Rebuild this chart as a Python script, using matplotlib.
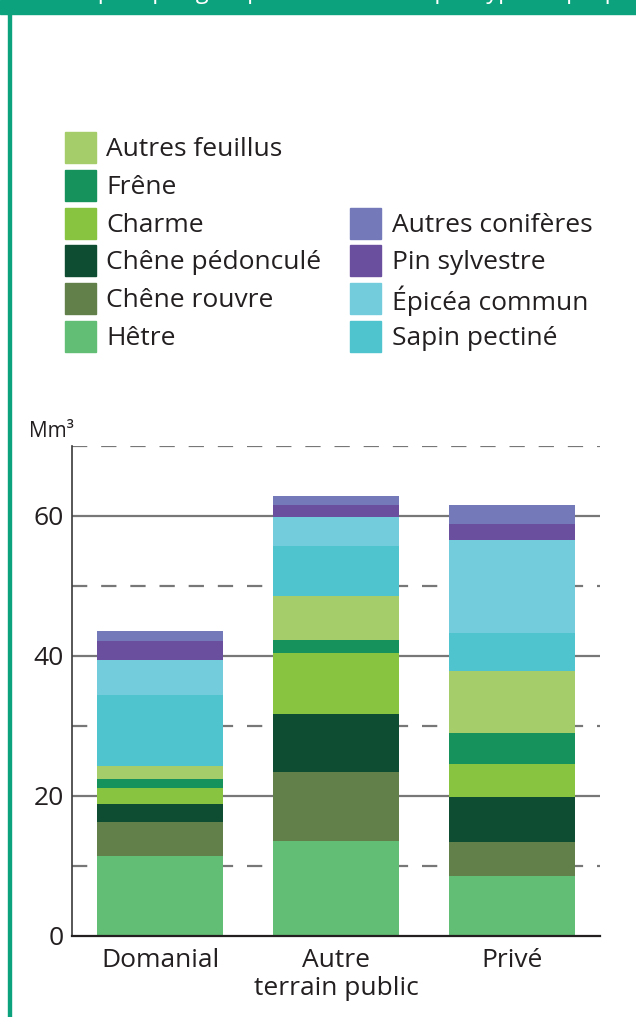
import numpy as np
import matplotlib
matplotlib.use("Agg")
import matplotlib.pyplot as plt
from matplotlib.patches import Rectangle

plt.rcParams["font.family"] = ["Open Sans", "DejaVu Sans"]
plt.rcParams["lines.scale_dashes"] = False

TXT = "#231f20"

categories = ["Domanial", "Autre\nterrain public", "Privé"]

# stacking order, bottom to top (Mm³)
species = ["Hêtre", "Chêne rouvre", "Chêne pédonculé", "Charme", "Frêne",
           "Autres feuillus", "Sapin pectiné", "Épicéa commun",
           "Pin sylvestre", "Autres conifères"]
hetre = [11.4, 13.5, 8.5]
chene_rouvre = [4.85, 9.9, 4.9]
chene_pedoncule = [2.55, 8.3, 6.4]
charme = [2.3, 8.7, 4.8]
frene = [1.3, 1.8, 4.4]
autres_feuillus = [1.8, 6.3, 8.9]
sapin = [10.2, 7.2, 5.3]
epicea = [5.0, 4.1, 13.3]
pin_sylvestre = [2.7, 1.7, 2.4]
autres_coniferes = [1.4, 1.4, 2.6]

series = [hetre, chene_rouvre, chene_pedoncule, charme, frene,
          autres_feuillus, sapin, epicea, pin_sylvestre, autres_coniferes]
colors = ["#62be75", "#62804a", "#0e4d32", "#88c440", "#16935c",
          "#a5ce6a", "#4fc4cf", "#72ccdc", "#6b4f9f", "#7479b9"]
col = dict(zip(species, colors))

legend_left = ["Autres feuillus", "Frêne", "Charme", "Chêne pédonculé",
               "Chêne rouvre", "Hêtre"]
legend_right = ["Autres conifères", "Pin sylvestre", "Épicéa commun",
                "Sapin pectiné"]

W, H = 636, 1017
FS = 19
fig = plt.figure(figsize=(W / 100, H / 100), dpi=100)

# header band + left rule
fig.patches.append(Rectangle((0, 1 - 14 / H), 1, 14 / H, transform=fig.transFigure,
                             color="#0ca27d", zorder=0))
fig.patches.append(Rectangle((8 / W, 0), 2.5 / W, 1 - 14 / H, transform=fig.transFigure,
                             color="#0ca27d", zorder=0))
# title runs off the top edge, only its descenders show (as in the source)
fig.text(0.5, 1 + 2 / H, "Volume sur pied par groupe d'essences et par type de propriété",
         color="white", fontsize=17, ha="center", va="baseline")

# legend, drawn by hand in figure pixels
def px(x, y):
    return x / W, 1 - y / H

sq = 31
for i, name in enumerate(legend_left):
    top = 132 + i * 37.8
    x0, y0 = px(65, top + sq)
    fig.patches.append(Rectangle((x0, y0), sq / W, sq / H, transform=fig.transFigure,
                                 color=col[name]))
    fig.text(*px(106, top + sq / 2 + 2), name, fontsize=FS, color=TXT, va="center")
for i, name in enumerate(legend_right):
    top = 132 + (i + 2) * 37.8
    x0, y0 = px(350, top + sq)
    fig.patches.append(Rectangle((x0, y0), sq / W, sq / H, transform=fig.transFigure,
                                 color=col[name]))
    fig.text(*px(392, top + sq / 2 + 2), name, fontsize=FS, color=TXT, va="center")

# chart
ax = fig.add_axes([72 / W, (H - 935.7) / H, 528 / W, (935.7 - 446) / H])
x = np.arange(len(categories))
bottom = np.zeros(len(categories))
for name, vals in zip(species, series):
    ax.bar(x, vals, width=0.72, bottom=bottom, color=col[name], zorder=3, linewidth=0)
    bottom += np.array(vals)

for v in [20, 40, 60]:
    ax.axhline(v, color="#777777", lw=1.6, zorder=1)
for v in [10, 30, 50, 70]:
    ax.axhline(v, color="#777777", lw=1.6, zorder=1, linestyle=(0, (11, 10)))

ax.set_xlim(-0.5, 2.5)
ax.set_ylim(0, 70)
ax.set_yticks([0, 20, 40, 60])
ax.set_xticks(x)
ax.set_xticklabels(categories, linespacing=1.15)
ax.tick_params(axis="both", length=0, labelsize=FS, labelcolor=TXT)
ax.tick_params(axis="y", pad=6)
ax.tick_params(axis="x", pad=9)
for s in ["top", "right"]:
    ax.spines[s].set_visible(False)
ax.spines["left"].set_color("#3a3a3a")
ax.spines["left"].set_linewidth(1.2)
ax.spines["bottom"].set_color(TXT)
ax.spines["bottom"].set_linewidth(1.6)
ax.spines["bottom"].set_zorder(4)

fig.text(*px(29, 437), "Mm³", fontsize=15, color=TXT, va="baseline")

fig.savefig("out.png", dpi=100)
